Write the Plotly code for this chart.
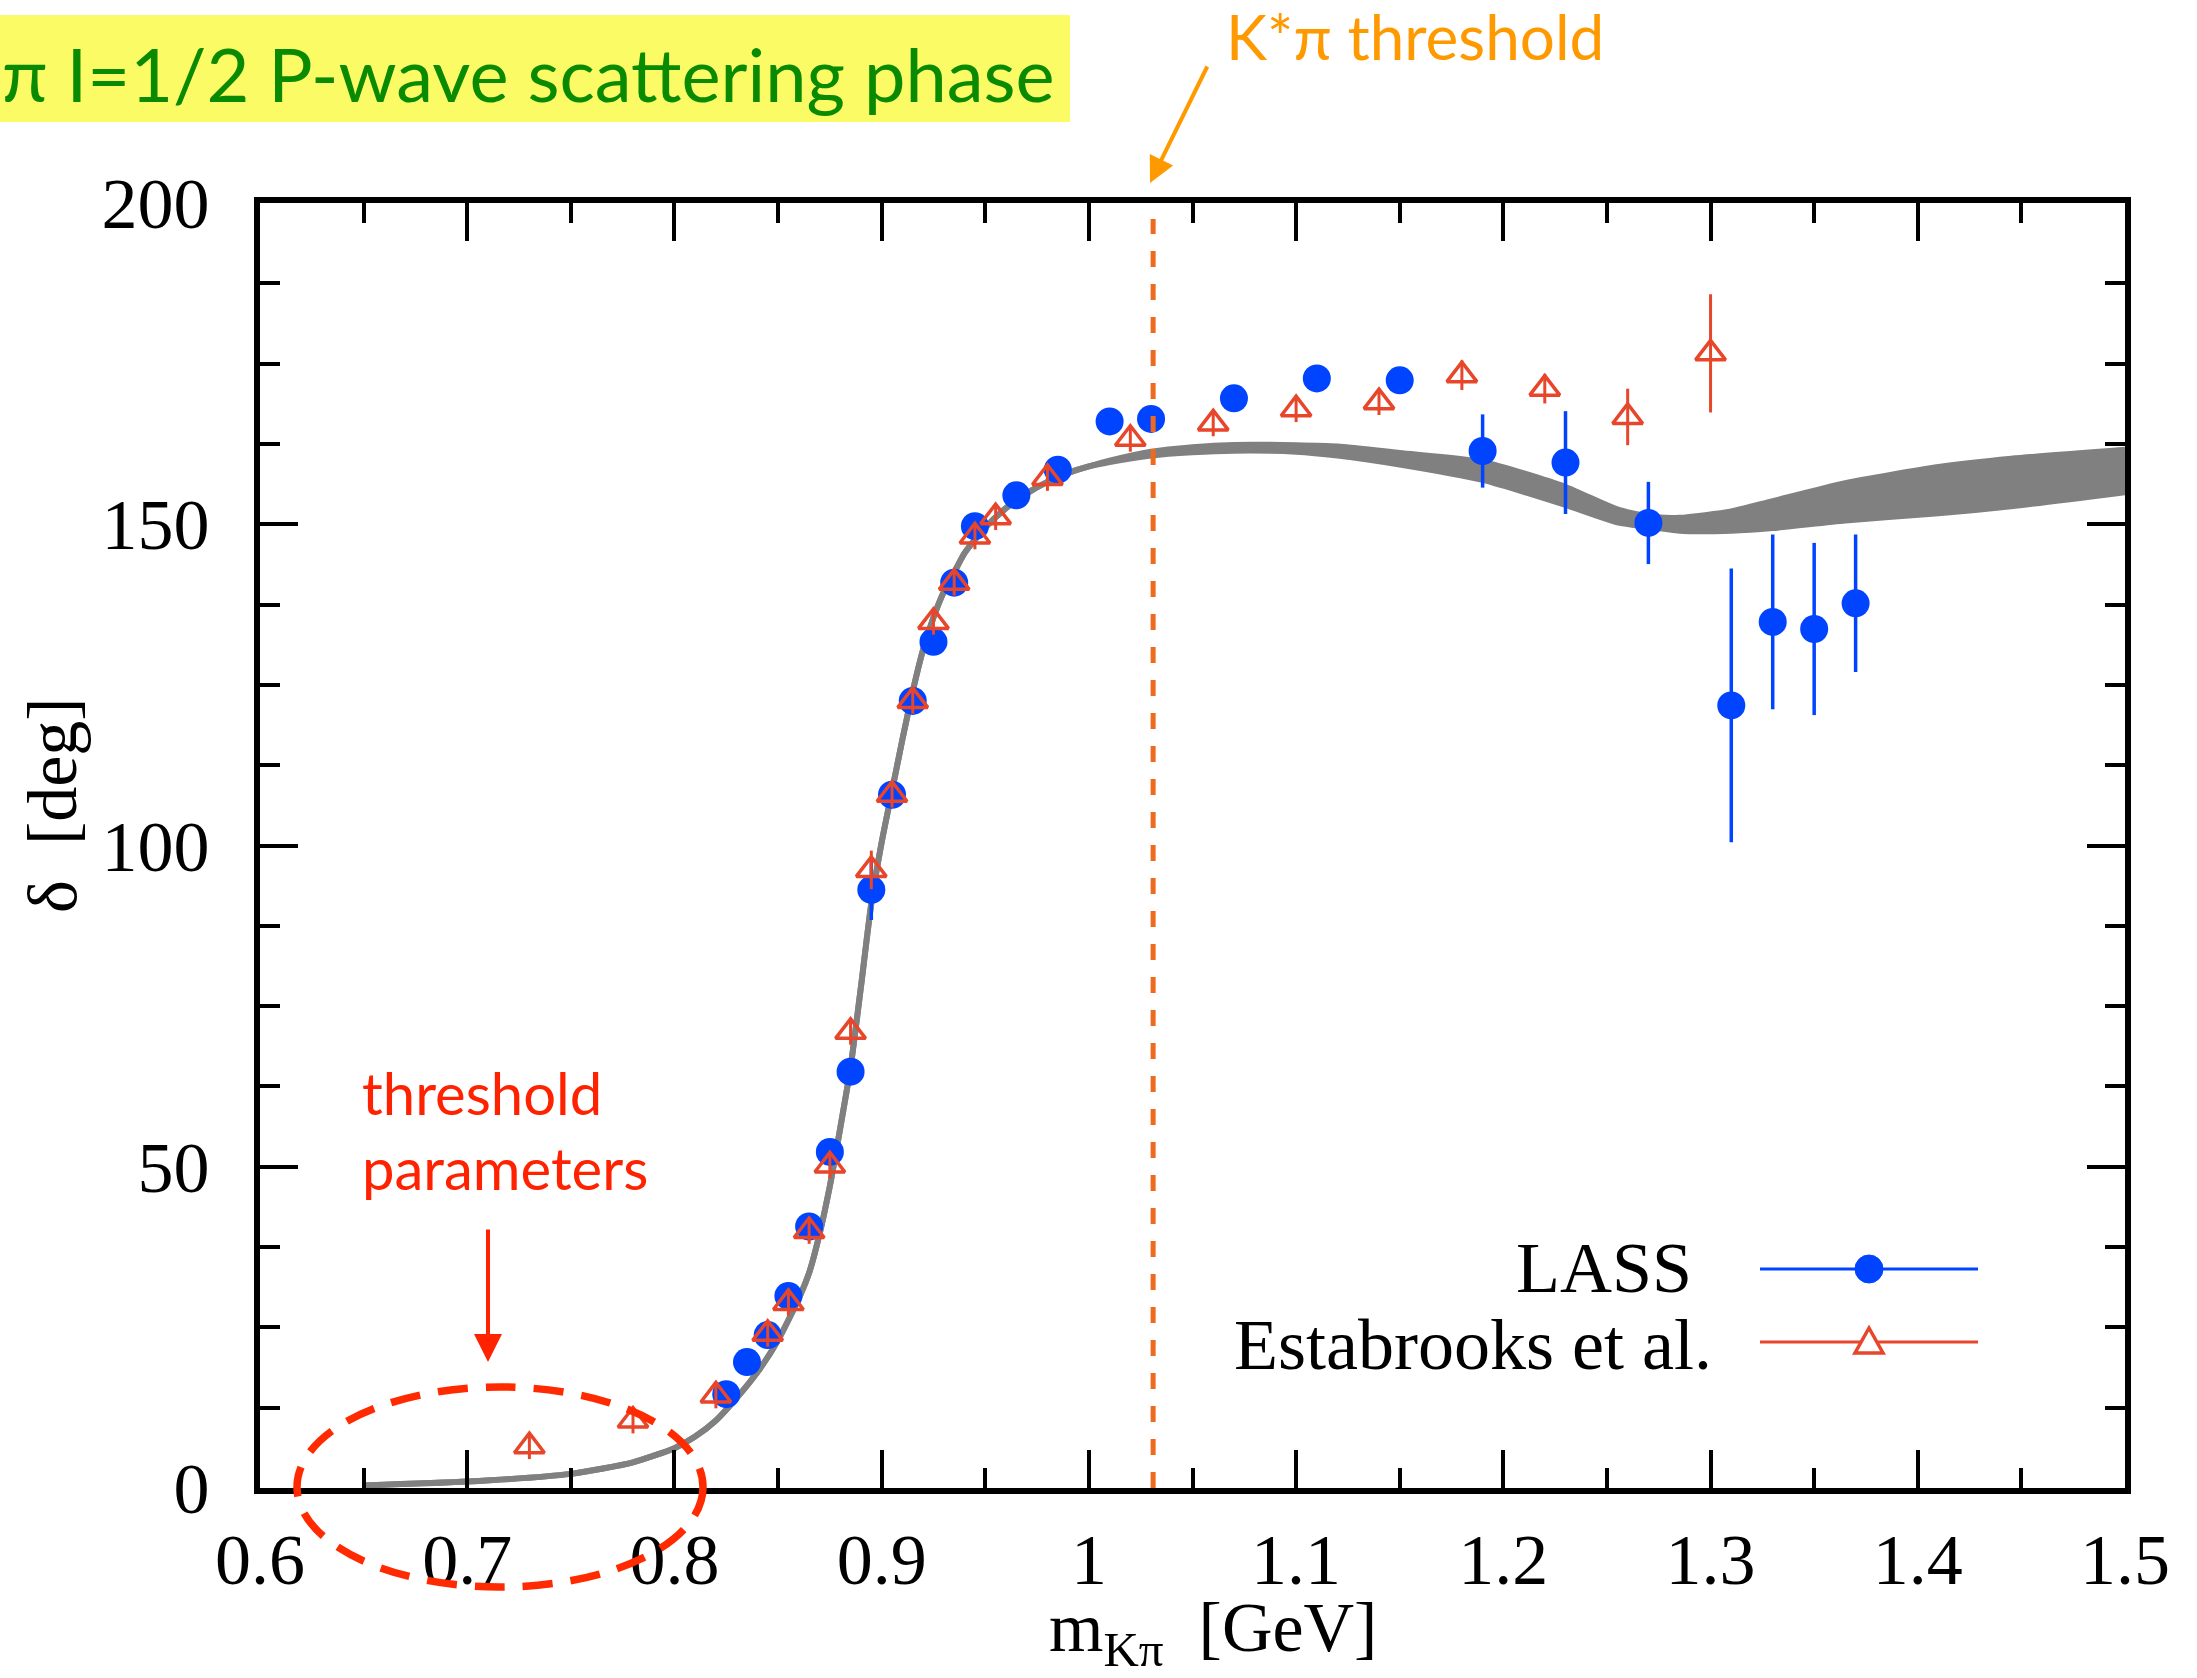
import plotly.graph_objects as go

# ---------------- data ----------------
lass_x = [0.825, 0.835, 0.845, 0.855, 0.865, 0.875, 0.885, 0.895, 0.905, 0.915,
          0.925, 0.935, 0.945, 0.965, 0.985, 1.01, 1.03, 1.07, 1.11, 1.15,
          1.19, 1.23, 1.27, 1.31, 1.33, 1.35, 1.37]
lass_y = [14.6, 19.6, 23.8, 29.9, 40.7, 52.3, 64.8, 93.1, 107.9, 122.5,
          131.7, 140.9, 149.7, 154.5, 158.5, 166.0, 166.4, 169.6, 172.7, 172.4,
          161.4, 159.6, 150.2, 121.8, 134.8, 133.7, 137.7]
lass_err = [1.0, 1.0, 1.0, 1.0, 1.0, 1.0, 1.5, 4.7, 1.5, 1.5,
            1.5, 1.5, 1.5, 1.5, 1.5, 1.5, 1.5, 1.5, 1.5, 1.5,
            5.7, 8.0, 6.4, 21.3, 13.6, 13.4, 10.7]

est_x = [0.73, 0.78, 0.82, 0.845, 0.855, 0.865, 0.875, 0.885, 0.895, 0.905,
         0.915, 0.925, 0.935, 0.945, 0.955, 0.98, 1.02, 1.06, 1.10, 1.14,
         1.18, 1.22, 1.26, 1.30]
est_y = [6.5, 10.5, 14.4, 24.0, 28.8, 40.0, 50.2, 71.0, 96.2, 107.9,
         122.5, 134.8, 140.9, 148.1, 151.1, 157.2, 163.3, 165.7, 167.9, 169.0,
         173.2, 171.1, 166.7, 176.6]
est_err = [2.0, 2.0, 2.0, 2.0, 2.0, 2.0, 2.0, 2.0, 3.0, 2.0,
           2.0, 2.0, 2.0, 2.0, 2.0, 2.0, 2.0, 2.0, 2.0, 2.0,
           2.3, 2.3, 4.4, 9.2]

curve_x = [0.65, 0.70, 0.75, 0.78, 0.80, 0.81, 0.82, 0.83, 0.84, 0.85,
           0.86, 0.865, 0.87, 0.875, 0.88, 0.885, 0.89, 0.895, 0.90, 0.905,
           0.91, 0.915, 0.92, 0.925, 0.93, 0.935, 0.94, 0.95, 0.96, 0.97,
           0.98, 0.99, 1.00, 1.01, 1.03, 1.05, 1.07, 1.10, 1.12, 1.15,
           1.19, 1.23, 1.255, 1.27, 1.285, 1.31, 1.33, 1.365, 1.41, 1.445, 1.50]
curve_y = [0.4, 1.0, 2.2, 4.0, 6.2, 8.0, 10.5, 14.0, 18.0, 23.0,
           29.5, 33.5, 39.5, 47.0, 56.0, 65.5, 78.0, 91.0, 100.5, 108.5,
           116.5, 124.0, 130.5, 135.5, 139.5, 142.5, 145.5, 149.5, 152.5, 154.8,
           156.6, 158.0, 159.0, 159.8, 161.0, 161.6, 161.9, 161.8, 161.4, 160.2,
           158.3, 154.4, 151.3, 150.4, 150.0, 150.5, 151.5, 153.5, 155.3, 156.5, 158.3]
curve_hw = [0, 0, 0, 0, 0, 0, 0, 0, 0, 0,
            0, 0, 0, 0, 0, 0, 0, 0, 0, 0,
            0, 0, 0, 0, 0, 0, 0, 0, 0, 0,
            0, 0, 0, 0.1, 0.3, 0.4, 0.45, 0.5, 0.7, 0.9,
            1.4, 1.4, 1.0, 0.8, 1.0, 1.5, 2.1, 2.9, 3.6, 3.7, 3.3]

kpi_threshold = 1.031

x_tick_vals = [0.6, 0.7, 0.8, 0.9, 1.0, 1.1, 1.2, 1.3, 1.4, 1.5]
x_tick_text = ["0.6", "0.7", "0.8", "0.9", "1", "1.1", "1.2", "1.3", "1.4", "1.5"]
y_tick_vals = [0, 50, 100, 150, 200]
y_tick_text = ["0", "50", "100", "150", "200"]

# ---------------- styling ----------------
W, H = 2197, 1678
L, R, T, B = 260, 2125, 203, 1488
BLUE = "#0044FF"
RED = "#E8462A"
GRAY = "#808080"
SERIF = "Liberation Serif"
SANS = "Lato"


def px(x):
    return (x - L) / (R - L)


def py(y):
    return (B - y) / (B - T)


fig = go.Figure()

upper = [c + h for c, h in zip(curve_y, curve_hw)]
lower = [c - h for c, h in zip(curve_y, curve_hw)]
fig.add_trace(go.Scatter(x=curve_x, y=lower, mode="lines",
                         line=dict(color=GRAY, width=6, shape="spline", smoothing=0.6),
                         showlegend=False, hoverinfo="skip"))
fig.add_trace(go.Scatter(x=curve_x, y=upper, mode="lines", fill="tonexty",
                         fillcolor=GRAY, line=dict(color=GRAY, width=6, shape="spline", smoothing=0.6),
                         showlegend=False, hoverinfo="skip"))

fig.add_trace(go.Scatter(
    x=lass_x, y=lass_y, mode="markers", name="LASS",
    marker=dict(symbol="circle", size=28, color=BLUE),
    error_y=dict(type="data", array=lass_err, visible=True, color=BLUE, thickness=3.5, width=0),
    showlegend=False))

fig.add_trace(go.Scatter(
    x=est_x, y=est_y, mode="markers", name="Estabrooks et al.",
    marker=dict(symbol="triangle-up-open", size=26, color=RED, line=dict(width=3.5, color=RED)),
    error_y=dict(type="data", array=est_err, visible=True, color=RED, thickness=3, width=0),
    showlegend=False))

axis_common = dict(
    showline=True, linecolor="black", linewidth=6, mirror="allticks",
    ticks="inside", ticklen=38, tickwidth=4, tickcolor="black",
    showgrid=False, zeroline=False,
    tickfont=dict(family=SERIF, size=72, color="black"),
)

fig.update_xaxes(range=[0.6, 1.5], tickvals=x_tick_vals, ticktext=x_tick_text,
                 minor=dict(ticks="inside", ticklen=20, tickwidth=4, tickcolor="black", dtick=0.05, tick0=0.6),
                 ticklabelstandoff=4, **axis_common)
fig.update_yaxes(range=[0, 200], tickvals=y_tick_vals, ticktext=y_tick_text,
                 minor=dict(ticks="inside", ticklen=20, tickwidth=4, tickcolor="black", dtick=12.5, tick0=0),
                 ticklabelstandoff=30, **axis_common)

shapes = []
# K* pi threshold line
shapes.append(dict(type="line", xref="x", yref="y", x0=kpi_threshold, x1=kpi_threshold,
                   y0=0, y1=197.5, line=dict(color="#EE6A1E", width=5, dash="16px,17px"), layer="above"))
# yellow title box
shapes.append(dict(type="rect", xref="paper", yref="paper", x0=px(0), x1=px(1070),
                   y0=py(122), y1=py(15), fillcolor="#FBFB66", line=dict(width=0), layer="below"))
# dashed ellipse
shapes.append(dict(type="circle", xref="paper", yref="paper", x0=px(297), x1=px(703),
                   y0=py(1587), y1=py(1387), line=dict(color="#FF2A00", width=7.5, dash="30px,18px"),
                   layer="above"))
# legend samples
shapes.append(dict(type="line", xref="paper", yref="paper", x0=px(1760), x1=px(1978),
                   y0=py(1269), y1=py(1269), line=dict(color=BLUE, width=3)))
shapes.append(dict(type="circle", xref="paper", yref="paper", x0=px(1855), x1=px(1883),
                   y0=py(1283), y1=py(1255), fillcolor=BLUE, line=dict(color=BLUE, width=1)))
shapes.append(dict(type="line", xref="paper", yref="paper", x0=px(1760), x1=px(1978),
                   y0=py(1342), y1=py(1342), line=dict(color=RED, width=3)))
tri = "M {},{} L {},{} L {},{} Z".format(px(1855), py(1353), px(1883), py(1353), px(1869), py(1328))
shapes.append(dict(type="path", xref="paper", yref="paper", path=tri, fillcolor="white",
                   line=dict(color=RED, width=3.5)))

annotations = []
annotations.append(dict(xref="paper", yref="paper", x=px(0), y=py(74), xanchor="left", yanchor="middle",
                        text="π I=1/2 P-wave scattering phase", showarrow=False,
                        font=dict(family=SANS, size=74, color="#0A8A00")))
annotations.append(dict(xref="paper", yref="paper", x=px(1224), y=py(36), xanchor="left", yanchor="middle",
                        text="K*π threshold", showarrow=False,
                        font=dict(family=SANS, size=62, color="#FF9900")))
annotations.append(dict(xref="paper", yref="paper", x=px(1150), y=py(183), ax=58, ay=-118,
                        axref="pixel", ayref="pixel", text="", showarrow=True,
                        arrowhead=2, arrowsize=1.3, arrowwidth=4, arrowcolor="#FF9900"))
annotations.append(dict(xref="paper", yref="paper", x=px(360), y=py(1092), xanchor="left", yanchor="middle",
                        text="threshold", showarrow=False,
                        font=dict(family=SANS, size=58, color="#FF2200")))
annotations.append(dict(xref="paper", yref="paper", x=px(360), y=py(1167), xanchor="left", yanchor="middle",
                        text="parameters", showarrow=False,
                        font=dict(family=SANS, size=58, color="#FF2200")))
annotations.append(dict(xref="paper", yref="paper", x=px(488), y=py(1362), ax=0, ay=-134,
                        axref="pixel", ayref="pixel", text="", showarrow=True,
                        arrowhead=2, arrowsize=1.4, arrowwidth=4, arrowcolor="#FF2200"))
# legend labels
annotations.append(dict(xref="paper", yref="paper", x=px(1694), y=py(1268), xanchor="right", yanchor="middle",
                        text="LASS", showarrow=False,
                        font=dict(family=SERIF, size=72, color="black")))
annotations.append(dict(xref="paper", yref="paper", x=px(1714), y=py(1345), xanchor="right", yanchor="middle",
                        text="Estabrooks et al.", showarrow=False,
                        font=dict(family=SERIF, size=72, color="black")))
# axis titles
annotations.append(dict(xref="paper", yref="paper", x=px(1213), y=py(1633), xanchor="center", yanchor="middle",
                        text="m<sub>Kπ</sub>  [GeV]", showarrow=False,
                        font=dict(family=SERIF, size=70, color="black")))
annotations.append(dict(xref="paper", yref="paper", x=px(52), y=py(805), xanchor="center", yanchor="middle",
                        text="δ  [deg]", textangle=-90, showarrow=False,
                        font=dict(family=SERIF, size=70, color="black")))

fig.update_layout(
    width=W, height=H,
    margin=dict(l=L, r=W - R, t=T, b=H - B, pad=0),
    paper_bgcolor="white", plot_bgcolor="white",
    shapes=shapes, annotations=annotations, showlegend=False,
)

fig.write_html("out.html")
